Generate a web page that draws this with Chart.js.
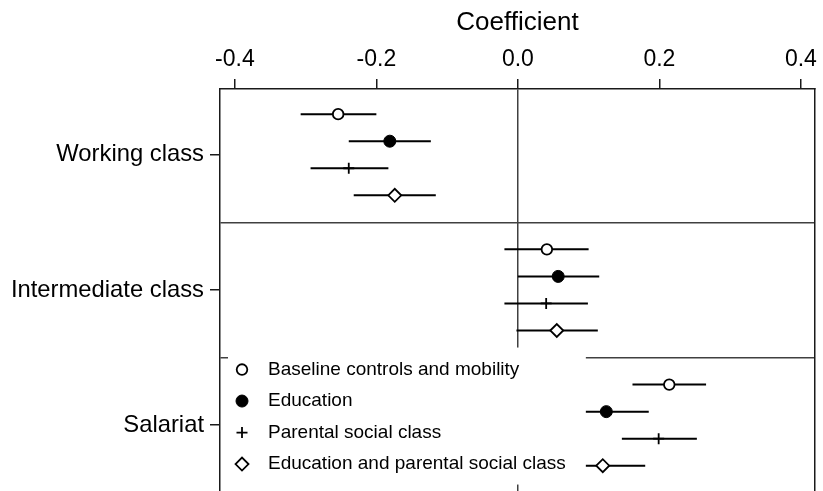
<!DOCTYPE html>
<html>
<head>
<meta charset="utf-8">
<script src="https://cdn.jsdelivr.net/npm/chart.js@4"></script>
<style>
  html, body { margin: 0; padding: 0; background: #fff; overflow: hidden; }
  #wrap { width: 823px; height: 491px; }
</style>
</head>
<body>
<div id="wrap"><canvas id="coefChart" width="823" height="491"></canvas></div>
<script>
// categories and series
const groups = ['Working class', 'Intermediate class', 'Salariat'];
const seriesNames = [
  'Baseline controls and mobility',
  'Education',
  'Parental social class',
  'Education and parental social class'
];

// coefficient estimates and 95% intervals, one value per group
const baselineEst = [-0.254, 0.041, 0.214];
const baselineLo  = [-0.307, -0.019, 0.162];
const baselineHi  = [-0.200, 0.100, 0.266];

const educationEst = [-0.181, 0.057, 0.125];
const educationLo  = [-0.239, 0.000, 0.065];
const educationHi  = [-0.123, 0.115, 0.185];

const parentalEst = [-0.239, 0.040, 0.199];
const parentalLo  = [-0.293, -0.019, 0.147];
const parentalHi  = [-0.183, 0.099, 0.253];

const bothEst = [-0.174, 0.055, 0.120];
const bothLo  = [-0.232, -0.002, 0.060];
const bothHi  = [-0.116, 0.113, 0.180];

// tick labels
const xTicks = [-0.4, -0.2, 0.0, 0.2, 0.4];
const yTicks = [0, 0.5, 1, 1.5, 2];

const estimates = [baselineEst, educationEst, parentalEst, bothEst];
const lows = [baselineLo, educationLo, parentalLo, bothLo];
const highs = [baselineHi, educationHi, parentalHi, bothHi];

// where each series sits inside its group band
const rowOffset = [-0.3, -0.1, 0.1, 0.3];
const markers = [
  { pointStyle: 'circle',  radius: 5.3, bg: '#fff', borderWidth: 1.8 },
  { pointStyle: 'circle',  radius: 6,   bg: '#000', borderWidth: 1 },
  { pointStyle: 'cross',   radius: 5.5, bg: '#000', borderWidth: 1.8 },
  { pointStyle: 'rectRot', radius: 6.5, bg: '#fff', borderWidth: 1.8 }
];

const FONT = "'Liberation Sans', Arial, sans-serif";
Chart.defaults.font.family = FONT;
Chart.defaults.color = '#000';

const pointSets = seriesNames.map((name, s) => ({
  type: 'scatter',
  label: name,
  order: 0,
  data: groups.map((g, i) => ({ x: estimates[s][i], y: i + rowOffset[s] })),
  pointStyle: markers[s].pointStyle,
  pointRadius: markers[s].radius,
  pointHoverRadius: markers[s].radius,
  pointBackgroundColor: markers[s].bg,
  pointBorderColor: '#000',
  pointBorderWidth: markers[s].borderWidth
}));

const intervalSets = seriesNames.map((name, s) => ({
  type: 'scatter',
  label: name + ' CI',
  order: 1,
  showLine: true,
  spanGaps: false,
  borderColor: '#000',
  borderWidth: 2,
  pointRadius: 0,
  pointHoverRadius: 0,
  data: groups.flatMap((g, i) => [
    { x: lows[s][i], y: i + rowOffset[s] },
    { x: highs[s][i], y: i + rowOffset[s] },
    { x: null, y: null }
  ])
}));

// legend drawn on top of the data with a white box, as in the original
const legendBox = {
  id: 'legendBox',
  afterDatasetsDraw(chart) {
    const { ctx, chartArea, scales } = chart;
    const left = chartArea.left + 8;
    const top = scales.y.getPixelForValue(1.5) - 10;
    const rowGap = 31.5;
    const symX = left + 14;
    const textX = left + 40;
    ctx.save();
    ctx.font = '19px ' + FONT;
    let maxW = 0;
    seriesNames.forEach(n => { maxW = Math.max(maxW, ctx.measureText(n).width); });
    const right = textX + maxW + 20;
    const bottom = top + 22 + rowGap * (seriesNames.length - 1) + 20.5;
    ctx.fillStyle = '#fff';
    ctx.fillRect(left, top, right - left, bottom - top);
    seriesNames.forEach((n, s) => {
      const y = top + 22 + rowGap * s;
      ctx.fillStyle = markers[s].bg;
      ctx.strokeStyle = '#000';
      ctx.lineWidth = markers[s].borderWidth;
      Chart.helpers.drawPoint(ctx, {
        pointStyle: markers[s].pointStyle,
        radius: markers[s].radius,
        rotation: 0,
        borderWidth: markers[s].borderWidth
      }, symX, y);
      ctx.fillStyle = '#000';
      ctx.textAlign = 'left';
      ctx.textBaseline = 'middle';
      ctx.fillText(n, textX, y);
    });
    ctx.restore();
  }
};

new Chart(document.getElementById('coefChart'), {
  type: 'scatter',
  data: { datasets: [...pointSets, ...intervalSets] },
  options: {
    responsive: false,
    animation: false,
    layout: { padding: 0, autoPadding: false },
    plugins: {
      legend: { display: false },
      tooltip: { enabled: false }
    },
    scales: {
      x: {
        type: 'linear',
        position: 'top',
        min: -0.421,
        max: 0.42,
        afterBuildTicks: scale => { scale.ticks = xTicks.map(v => ({ value: v })); },
        afterFit: scale => { scale.height = 89; },
        ticks: {
          font: { size: 23 },
          padding: 6,
          maxRotation: 0,
          callback: v => v.toFixed(1)
        },
        grid: {
          drawOnChartArea: true,
          color: ctx => (ctx.tick && ctx.tick.value === 0 ? '#404040' : 'rgba(0,0,0,0)'),
          lineWidth: 1.5,
          tickColor: '#1a1a1a',
          tickLength: 10,
          tickWidth: 1.5
        },
        border: { color: '#1a1a1a', width: 1.5 },
        title: {
          display: true,
          text: 'Coefficient',
          font: { size: 26 },
          padding: { top: 7, bottom: 0 }
        }
      },
      y: {
        type: 'linear',
        position: 'left',
        reverse: true,
        min: -0.486,
        max: 2.487,
        afterBuildTicks: scale => { scale.ticks = yTicks.map(v => ({ value: v })); },
        afterFit: scale => {
          scale.width = 220;
          scale.paddingTop = 0;
          scale.paddingBottom = 0;
        },
        ticks: {
          font: { size: 23.8 },
          padding: 6,
          callback: v => (Number.isInteger(v) ? groups[v] : '')
        },
        grid: {
          drawOnChartArea: true,
          color: ctx => (ctx.tick && !Number.isInteger(ctx.tick.value) ? '#404040' : 'rgba(0,0,0,0)'),
          lineWidth: 1.5,
          tickColor: ctx => (ctx.tick && Number.isInteger(ctx.tick.value) ? '#1a1a1a' : 'rgba(0,0,0,0)'),
          tickLength: 10,
          tickWidth: 1.5
        },
        border: { color: '#1a1a1a', width: 1.5 }
      },
      yRight: {
        type: 'linear',
        position: 'right',
        afterFit: scale => {
          scale.width = 6;
          scale.paddingTop = 0;
          scale.paddingBottom = 0;
        },
        ticks: { display: false },
        grid: { drawOnChartArea: false, drawTicks: false },
        border: { color: '#1a1a1a', width: 1.5 }
      }
    }
  },
  plugins: [legendBox]
});
</script>
</body>
</html>
